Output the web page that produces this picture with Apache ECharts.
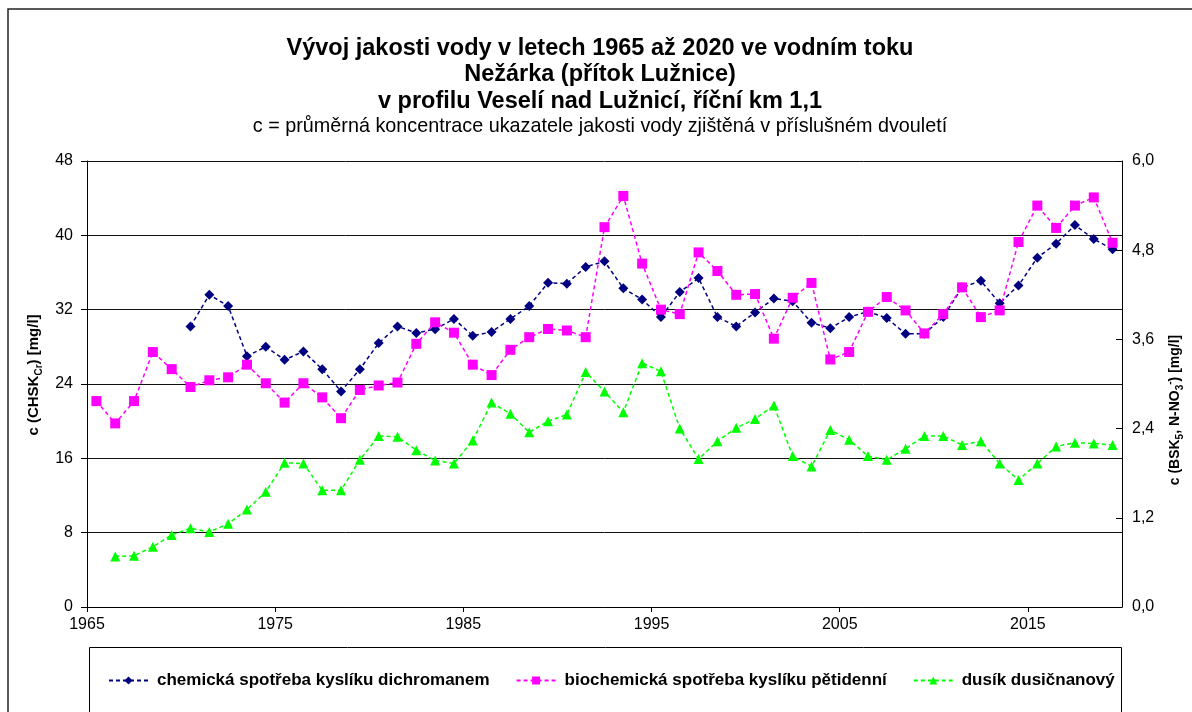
<!DOCTYPE html>
<html>
<head>
<meta charset="utf-8">
<script src="https://cdn.jsdelivr.net/npm/echarts@6/dist/echarts.min.js"></script>
<style>
  html, body { margin: 0; padding: 0; background: #fff; }
  #chart { width: 1192px; height: 712px; }
</style>
</head>
<body>
<div id="chart"></div>
<script>
// Headings
const titleLines = [
  'Vývoj jakosti vody v letech 1965 až 2020 ve vodním toku',
  'Nežárka (přítok Lužnice)',
  'v profilu Veselí nad Lužnicí, říční km 1,1'
];
const subtitle = 'c = průměrná koncentrace ukazatele jakosti vody zjištěná v příslušném dvouletí';

// Series names
const seriesNames = [
  'chemická spotřeba kyslíku dichromanem',
  'biochemická spotřeba kyslíku pětidenní',
  'dusík dusičnanový'
];

// Chemical oxygen demand (CHSK-Cr), left axis, mg/l
const codYears = [
  1970.5, 1971.5, 1972.5, 1973.5, 1974.5, 1975.5, 1976.5, 1977.5, 1978.5, 1979.5,
  1980.5, 1981.5, 1982.5, 1983.5, 1984.5, 1985.5, 1986.5, 1987.5, 1988.5, 1989.5,
  1990.5, 1991.5, 1992.5, 1993.5, 1994.5, 1995.5, 1996.5, 1997.5, 1998.5, 1999.5,
  2000.5, 2001.5, 2002.5, 2003.5, 2004.5, 2005.5, 2006.5, 2007.5, 2008.5, 2009.5,
  2010.5, 2011.5, 2012.5, 2013.5, 2014.5, 2015.5, 2016.5, 2017.5, 2018.5, 2019.5
];
const codValues = [
  30.2, 33.6, 32.4, 27.0, 28.0, 26.6, 27.5, 25.6, 23.2, 25.6,
  28.4, 30.2, 29.5, 29.9, 31.0, 29.2, 29.6, 31.0, 32.4, 34.9,
  34.8, 36.6, 37.2, 34.3, 33.1, 31.2, 33.9, 35.4, 31.2, 30.2,
  31.7, 33.2, 32.9, 30.6, 30.0, 31.2, 31.8, 31.1, 29.4, 29.4,
  31.2, 34.4, 35.1, 32.7, 34.6, 37.6, 39.1, 41.1, 39.6, 38.5
];

// Five-day biochemical oxygen demand (BSK5), right axis, mg/l
const bodYears = [
  1965.5, 1966.5, 1967.5, 1968.5, 1969.5,
  1970.5, 1971.5, 1972.5, 1973.5, 1974.5, 1975.5, 1976.5, 1977.5, 1978.5, 1979.5,
  1980.5, 1981.5, 1982.5, 1983.5, 1984.5, 1985.5, 1986.5, 1987.5, 1988.5, 1989.5,
  1990.5, 1991.5, 1992.5, 1993.5, 1994.5, 1995.5, 1996.5, 1997.5, 1998.5, 1999.5,
  2000.5, 2001.5, 2002.5, 2003.5, 2004.5, 2005.5, 2006.5, 2007.5, 2008.5, 2009.5,
  2010.5, 2011.5, 2012.5, 2013.5, 2014.5, 2015.5, 2016.5, 2017.5, 2018.5, 2019.5
];
const bodValues = [
  2.77, 2.47, 2.77, 3.43, 3.20,
  2.96, 3.05, 3.09, 3.26, 3.01, 2.75, 3.01, 2.82, 2.54, 2.92,
  2.98, 3.02, 3.54, 3.83, 3.69, 3.26, 3.12, 3.46, 3.63, 3.74,
  3.72, 3.63, 5.11, 5.53, 4.62, 4.00, 3.94, 4.77, 4.52, 4.20,
  4.21, 3.61, 4.16, 4.36, 3.33, 3.43, 3.97, 4.17, 3.99, 3.68,
  3.94, 4.30, 3.90, 3.99, 4.91, 5.40, 5.10, 5.40, 5.51, 4.90
];

// Nitrate nitrogen (N-NO3), right axis, mg/l
const no3Years = [
  1966.5, 1967.5, 1968.5, 1969.5,
  1970.5, 1971.5, 1972.5, 1973.5, 1974.5, 1975.5, 1976.5, 1977.5, 1978.5, 1979.5,
  1980.5, 1981.5, 1982.5, 1983.5, 1984.5, 1985.5, 1986.5, 1987.5, 1988.5, 1989.5,
  1990.5, 1991.5, 1992.5, 1993.5, 1994.5, 1995.5, 1996.5, 1997.5, 1998.5, 1999.5,
  2000.5, 2001.5, 2002.5, 2003.5, 2004.5, 2005.5, 2006.5, 2007.5, 2008.5, 2009.5,
  2010.5, 2011.5, 2012.5, 2013.5, 2014.5, 2015.5, 2016.5, 2017.5, 2018.5, 2019.5
];
const no3Values = [
  0.68, 0.69, 0.81, 0.97,
  1.06, 1.01, 1.12, 1.31, 1.55, 1.94, 1.93, 1.57, 1.57, 1.98,
  2.30, 2.29, 2.11, 1.97, 1.93, 2.24, 2.75, 2.60, 2.35, 2.50,
  2.59, 3.16, 2.90, 2.62, 3.28, 3.17, 2.40, 1.99, 2.23, 2.41,
  2.53, 2.71, 2.03, 1.89, 2.38, 2.25, 2.03, 1.98, 2.13, 2.30,
  2.30, 2.18, 2.23, 1.93, 1.71, 1.93, 2.16, 2.21, 2.20, 2.18
];

const FONT = '"Liberation Sans", Arial, sans-serif';
const pairs = (xs, ys) => xs.map((x, i) => [x, ys[i]]);
const commaDecimal = v => v.toFixed(1).replace('.', ',');

const chart = echarts.init(document.getElementById('chart'), null, { renderer: 'canvas' });

// rich styles for axis names with subscripts / superscript
const makeRich = size => ({
  b: { fontSize: size, fontWeight: 'bold', fontFamily: FONT, color: '#000', lineHeight: 20 },
  s: { fontSize: 10, fontWeight: 'bold', fontFamily: FONT, color: '#000', lineHeight: 10, verticalAlign: 'bottom' },
  p: { fontSize: 10, fontWeight: 'bold', fontFamily: FONT, color: '#000', lineHeight: 10, verticalAlign: 'top' }
});

const titleGraphics = titleLines.map((t, i) => ({
  type: 'text',
  x: 600, y: 48.5 + i * 26.5,
  style: {
    text: t, fill: '#000', font: 'bold 23.5px ' + FONT,
    textAlign: 'center', textVerticalAlign: 'middle'
  }
}));

chart.setOption({
  animation: false,
  backgroundColor: '#fff',
  textStyle: { fontFamily: FONT },
  graphic: [
    // outer frame
    { type: 'rect', shape: { x: 8, y: 9, width: 1200, height: 720 },
      style: { fill: 'none', stroke: '#222', lineWidth: 1.5 }, silent: true },
    // legend box
    { type: 'rect', shape: { x: 89.5, y: 647.5, width: 1032, height: 80 },
      style: { fill: 'none', stroke: '#000', lineWidth: 1 }, silent: true },
    ...titleGraphics,
    { type: 'text', x: 600, y: 127,
      style: { text: subtitle, fill: '#000', font: '19.8px ' + FONT,
        textAlign: 'center', textVerticalAlign: 'middle' } }
  ],
  grid: { left: 87, right: 70, top: 161, bottom: 105, outerBoundsMode: 'none', containLabel: false },
  legend: {
    data: seriesNames,
    left: 108, top: 672, padding: 0,
    itemWidth: 39, itemHeight: 10, itemGap: 26,
    textStyle: { fontSize: 17, fontWeight: 'bold', fontFamily: FONT, color: '#000', padding: [0, 0, 0, 4] }
  },
  xAxis: {
    type: 'value', min: 1965, max: 2020, interval: 10,
    axisLine: { show: true, lineStyle: { color: '#000', width: 1 } },
    axisTick: { show: true, inside: false, length: 5, lineStyle: { color: '#000' } },
    axisLabel: { fontSize: 16, color: '#000', fontFamily: FONT, margin: 10, showMaxLabel: false,
      formatter: v => (v === 2020 ? '' : String(v)) },
    splitLine: { show: false }
  },
  yAxis: [
    {
      type: 'value', min: 0, max: 48, interval: 8, position: 'left',
      name: '{b|c (CHSK}{s|Cr}{b|) [mg/l]}',
      nameLocation: 'middle', nameRotate: 90, nameGap: 43,
      nameTextStyle: { rich: makeRich(15), padding: [0, 0, 0, 18] },
      axisLine: { show: true, lineStyle: { color: '#000', width: 1 } },
      axisTick: { show: true, inside: false, length: 6, lineStyle: { color: '#000' } },
      axisLabel: { fontSize: 16, color: '#000', fontFamily: FONT, margin: 14 },
      splitLine: { show: true, lineStyle: { color: '#111', width: 1 } }
    },
    {
      type: 'value', min: 0, max: 6, interval: 1.2, position: 'right',
      name: '{b|c (BSK}{s|5}{b|, N-NO}{s|3}{p|-}{b|) [mg/l]}',
      nameLocation: 'middle', nameRotate: 90, nameGap: 40,
      nameTextStyle: { rich: makeRich(14), padding: [0, 52, 0, 0] },
      axisLine: { show: true, lineStyle: { color: '#000', width: 1 } },
      axisTick: { show: true, inside: true, length: 6, lineStyle: { color: '#000' } },
      axisLabel: { fontSize: 16, color: '#000', fontFamily: FONT, margin: 10, formatter: commaDecimal },
      splitLine: { show: false }
    }
  ],
  series: [
    {
      name: seriesNames[0], type: 'line', yAxisIndex: 0,
      data: pairs(codYears, codValues),
      symbol: 'diamond', symbolSize: 10,
      itemStyle: { color: '#000080' },
      lineStyle: { color: '#000080', width: 1.5, type: [4, 3] }
    },
    {
      name: seriesNames[1], type: 'line', yAxisIndex: 1,
      data: pairs(bodYears, bodValues),
      symbol: 'rect', symbolSize: 10,
      itemStyle: { color: '#ff00ff' },
      lineStyle: { color: '#ff00ff', width: 1.5, type: [4, 3] }
    },
    {
      name: seriesNames[2], type: 'line', yAxisIndex: 1,
      data: pairs(no3Years, no3Values),
      symbol: 'triangle', symbolSize: 10,
      itemStyle: { color: '#00ff00' },
      lineStyle: { color: '#00ff00', width: 1.5, type: [4, 3] }
    }
  ]
});
</script>
</body>
</html>
